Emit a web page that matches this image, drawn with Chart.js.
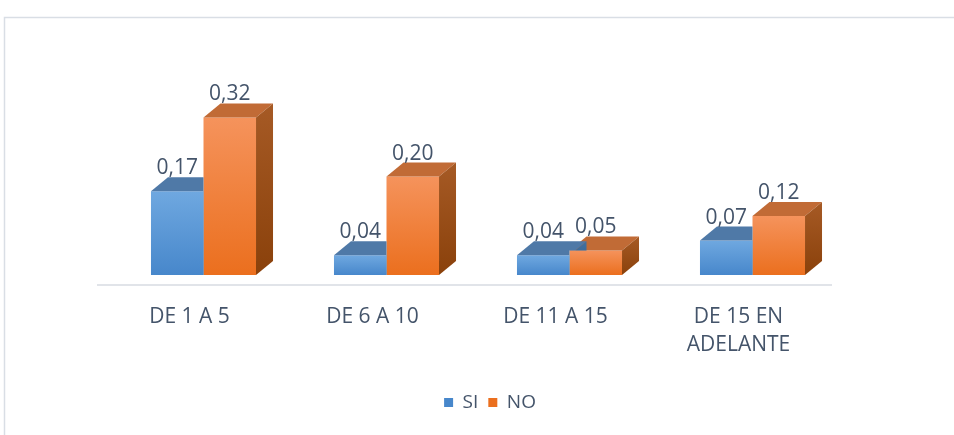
<!DOCTYPE html>
<html><head><meta charset="utf-8">
<style>html,body{margin:0;padding:0;background:#fff;overflow:hidden}#wrap{width:954px;height:435px;position:relative}</style>
<script src="https://cdn.jsdelivr.net/npm/chart.js@4.4.0/dist/chart.umd.min.js"></script>
</head><body><div id="wrap"><canvas id="c"></canvas></div>
<script>
const categories = [['DE 1 A 5'], ['DE 6 A 10'], ['DE 11 A 15'], ['DE 15 EN', 'ADELANTE']];
const seriesNames = ['SI', 'NO'];
const siValues = [0.17, 0.04, 0.04, 0.07];
const noValues = [0.32, 0.20, 0.05, 0.12];

const TEXT = '#44546A';
const DX = 17, DY = 14;
const faces = [
  { front: ['#6FA8E0', '#4787CB'], top: '#4F79A7', side: ['#41709F', '#32608E'] },
  { front: ['#F5935C', '#EB6F1E'], top: '#C16B36', side: ['#A65A25', '#8A410B'] }
];

function frontGrad(i) {
  return (ctx) => {
    const ch = ctx.chart;
    const f = faces[i].front;
    if (!ch.chartArea || ctx.raw === undefined) return f[1];
    const ys = ch.scales.y;
    const top = ys.getPixelForValue(ctx.raw);
    const bot = ys.getPixelForValue(0);
    const g = ch.ctx.createLinearGradient(0, top, 0, bot + 0.01);
    g.addColorStop(0, f[0]);
    g.addColorStop(1, f[1]);
    return g;
  };
}

const bar3d = {
  id: 'bar3d',
  afterLayout(chart) {
    if (chart.legend) { chart.legend.left += 12; chart.legend.right += 12; }
  },
  beforeDraw(chart) {
    const c = chart.ctx;
    c.save();
    c.strokeStyle = '#D9DEE5';
    c.lineWidth = 1.5;
    c.strokeRect(4.5, 17.5, 1200, 1200);
    c.restore();
  },
  beforeDatasetsDraw(chart) {
    const c = chart.ctx, a = chart.chartArea;
    c.save();
    c.strokeStyle = '#E1E4E9';
    c.lineWidth = 2;
    c.beginPath();
    c.moveTo(a.left - 15, a.bottom + 10);
    c.lineTo(a.right - 12, a.bottom + 10);
    c.stroke();
    c.restore();
  },
  afterDatasetDraw(chart, args) {
    const c = chart.ctx, i = args.index, f = faces[i];
    c.save();
    if (i === 0) {
      // keep SI faces behind the NO fronts
      const noMeta = chart.getDatasetMeta(1);
      c.beginPath();
      c.rect(0, 0, chart.width, chart.height);
      noMeta.data.forEach(bar => {
        const q = bar.getProps(['x', 'y', 'base', 'width'], true);
        c.rect(q.x - q.width / 2, q.y, q.width, q.base - q.y);
      });
      c.clip('evenodd');
    }
    args.meta.data.forEach(bar => {
      const p = bar.getProps(['x', 'y', 'base', 'width'], true);
      const l = p.x - p.width / 2, r = p.x + p.width / 2, y = p.y, b = p.base;
      c.fillStyle = f.top;
      c.beginPath();
      c.moveTo(l, y); c.lineTo(r, y); c.lineTo(r + DX, y - DY); c.lineTo(l + DX, y - DY);
      c.closePath(); c.fill();
      const g = c.createLinearGradient(0, y - DY, 0, b);
      g.addColorStop(0, f.side[0]); g.addColorStop(1, f.side[1]);
      c.fillStyle = g;
      c.beginPath();
      c.moveTo(r, y); c.lineTo(r + DX, y - DY); c.lineTo(r + DX, b - DY); c.lineTo(r, b);
      c.closePath(); c.fill();
    });
    c.restore();
  },
  afterDatasetsDraw(chart) {
    const c = chart.ctx;
    c.save();
    c.fillStyle = TEXT;
    c.font = '21px "Open Sans"';
    c.textAlign = 'center';
    c.textBaseline = 'alphabetic';
    chart.data.datasets.forEach((ds, i) => {
      chart.getDatasetMeta(i).data.forEach((bar, j) => {
        const p = bar.getProps(['x', 'y'], true);
        c.fillText(ds.data[j].toFixed(2).replace('.', ','), p.x, p.y - DY - 3);
      });
    });
    c.restore();
  }
};

new Chart(document.getElementById('c'), {
  type: 'bar',
  data: {
    labels: categories,
    datasets: [
      { label: seriesNames[0], data: siValues, backgroundColor: frontGrad(0), borderWidth: 0 },
      { label: seriesNames[1], data: noValues, backgroundColor: frontGrad(1), borderWidth: 0 }
    ]
  },
  options: {
    responsive: true,
    maintainAspectRatio: false,
    animation: false,
    layout: { padding: { left: 112, right: 110, top: 78, bottom: 13 } },
    scales: {
      x: {
        grid: { display: false, drawTicks: false },
        border: { display: false },
        ticks: { color: TEXT, font: { family: 'Open Sans', size: 21, lineHeight: 1.33 }, padding: 28, maxRotation: 0, labelOffset: -14 },
        afterFit: (s) => { s.height = 108; }
      },
      y: { display: false, min: 0, max: 0.4 }
    },
    datasets: { bar: { categoryPercentage: 0.574, barPercentage: 1.0 } },
    plugins: {
      legend: {
        position: 'bottom',
        labels: { color: TEXT, font: { family: 'Open Sans', size: 19 }, boxWidth: 9, boxHeight: 9, padding: 10 }
      },
      tooltip: { enabled: false }
    }
  },
  plugins: [bar3d]
});
</script></body></html>
